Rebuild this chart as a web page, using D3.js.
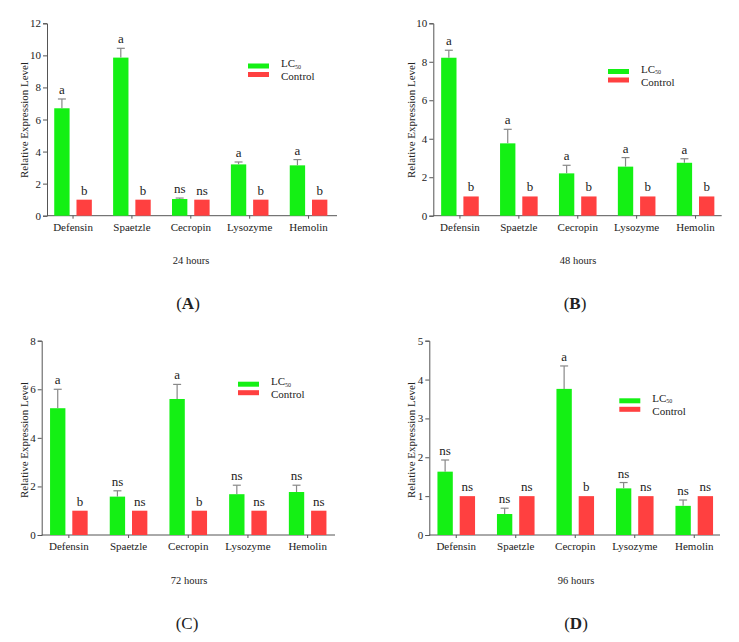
<!DOCTYPE html>
<html><head><meta charset="utf-8">
<script src="https://cdn.jsdelivr.net/npm/d3@7"></script>
<style>
body{margin:0;background:#fff;}
svg{display:block;}
text{font-family:"Liberation Serif","Times New Roman",serif;fill:#222;}
</style></head>
<body><svg id="c" width="739" height="642"></svg>
<script>
const categories = ["Defensin","Spaetzle","Cecropin","Lysozyme","Hemolin"];
const series = ["LC50","Control"];

const lc50_24h = [6.70, 9.86, 1.04, 3.20, 3.14];
const lc50Err_24h = [7.28, 10.44, 1.10, 3.35, 3.50];
const ctrl_24h = [1,1,1,1,1];
const lcLab_24h = ["a","a","ns","a","a"];
const ctLab_24h = ["b","b","ns","b","b"];

const lc50_48h = [8.21, 3.76, 2.20, 2.55, 2.75];
const lc50Err_48h = [8.60, 4.49, 2.62, 3.02, 2.96];
const ctrl_48h = [1,1,1,1,1];
const lcLab_48h = ["a","a","a","a","a"];
const ctLab_48h = ["b","b","b","b","b"];

const lc50_72h = [5.22, 1.58, 5.60, 1.68, 1.77];
const lc50Err_72h = [6.00, 1.82, 6.20, 2.05, 2.05];
const ctrl_72h = [1,1,1,1,1];
const lcLab_72h = ["a","ns","a","ns","ns"];
const ctLab_72h = ["b","ns","b","ns","ns"];

const lc50_96h = [1.63, 0.54, 3.76, 1.20, 0.75];
const lc50Err_96h = [1.93, 0.69, 4.35, 1.35, 0.90];
const ctrl_96h = [1,1,1,1,1];
const lcLab_96h = ["ns","ns","a","ns","ns"];
const ctLab_96h = ["ns","ns","b","ns","ns"];

const yMax = [12, 10, 8, 5];
const yStep = [2, 2, 2, 1];
const timeLabels = ["24 hours","48 hours","72 hours","96 hours"];
const panelLetters = ["A","B","C","D"];

const colors = {LC50:"#14f014", Control:"#ff4040"};

const panels = [
  {lc:lc50_24h, err:lc50Err_24h, ct:ctrl_24h, lcl:lcLab_24h, ctl:ctLab_24h,
   ax:47, axEnd:337, top:23.3, bot:215.7, band:[43.6,338], leg:[248,63.5], title:[24,120], time:[191,264], letter:[188,309], bold:true},
  {lc:lc50_48h, err:lc50Err_48h, ct:ctrl_48h, lcl:lcLab_48h, ctl:ctLab_48h,
   ax:433.3, axEnd:721.7, top:23.3, bot:215.7, band:[430.5,725], leg:[608,69], title:[411,120], time:[578,264], letter:[575,309], bold:true},
  {lc:lc50_72h, err:lc50Err_72h, ct:ctrl_72h, lcl:lcLab_72h, ctl:ctLab_72h,
   ax:41.7, axEnd:335, top:340.7, bot:535, band:[39,337.5], leg:[238,381.7], title:[24,440], time:[189,584], letter:[187,629], bold:false},
  {lc:lc50_96h, err:lc50Err_96h, ct:ctrl_96h, lcl:lcLab_96h, ctl:ctLab_96h,
   ax:429.3, axEnd:720, top:340.7, bot:535, band:[426.5,724], leg:[619.3,398.3], title:[411,440], time:[576,584], letter:[576,629], bold:true}
];

const svg = d3.select("#c");
const axisColor = "#555";

panels.forEach((p, i) => {
  const g = svg.append("g");
  const y = d3.scaleLinear().domain([0, yMax[i]]).range([p.bot, p.top]);
  const x0 = d3.scaleBand().domain(categories).range(p.band).padding(0);
  const x1 = d3.scaleBand().domain(series).range([0, 37.6]).paddingInner(0.31);
  const cx = c => x0(c) + x0.bandwidth()/2 - 18.8;

  // y axis
  const ticks = d3.range(0, yMax[i] + 0.001, yStep[i]);
  const ya = g.append("g").attr("transform", `translate(${p.ax},0)`)
    .call(d3.axisLeft(y).tickValues(ticks).tickSize(4).tickPadding(2).tickFormat(d3.format("d")));
  ya.select(".domain").attr("stroke", axisColor);
  ya.selectAll(".tick line").attr("stroke", axisColor);
  ya.selectAll(".tick text").attr("font-size", 11).attr("font-family", "Liberation Serif").attr("fill", "#222");

  // x axis
  g.append("line").attr("x1", p.ax).attr("x2", p.axEnd).attr("y1", p.bot).attr("y2", p.bot)
    .attr("stroke", axisColor);
  categories.forEach(c => {
    const xc = x0(c) + x0.bandwidth()/2;
    g.append("line").attr("x1", xc).attr("x2", xc).attr("y1", p.bot).attr("y2", p.bot + 3).attr("stroke", axisColor);
    g.append("text").attr("x", xc).attr("y", p.bot + 15).attr("text-anchor", "middle")
      .attr("font-size", 11).text(c);
  });

  // bars
  const rows = categories.map((c, k) => ({c, lc:p.lc[k], err:p.err[k], ct:p.ct[k], lcl:p.lcl[k], ctl:p.ctl[k]}));
  rows.forEach(r => {
    const bw = x1.bandwidth();
    const gx = cx(r.c) + x1("LC50");
    const rx = cx(r.c) + x1("Control");
    g.append("rect").attr("x", gx).attr("y", y(r.lc)).attr("width", bw).attr("height", y(0) - y(r.lc))
      .attr("fill", colors.LC50);
    g.append("rect").attr("x", rx).attr("y", y(r.ct)).attr("width", bw).attr("height", y(0) - y(r.ct))
      .attr("fill", colors.Control);
    // error bar
    const ex = gx + bw/2;
    g.append("line").attr("x1", ex).attr("x2", ex).attr("y1", y(r.lc)).attr("y2", y(r.err))
      .attr("stroke", "#888").attr("stroke-width", 1.2);
    g.append("line").attr("x1", ex - 4).attr("x2", ex + 4).attr("y1", y(r.err)).attr("y2", y(r.err))
      .attr("stroke", "#888").attr("stroke-width", 1.2);
    // letters
    g.append("text").attr("x", ex).attr("y", y(r.err) - 5).attr("text-anchor", "middle")
      .attr("font-size", 13).text(r.lcl);
    g.append("text").attr("x", rx + bw/2).attr("y", y(r.ct) - 5).attr("text-anchor", "middle")
      .attr("font-size", 13).text(r.ctl);
  });

  // y title
  g.append("text").attr("transform", `translate(${p.title[0]},${p.title[1]}) rotate(-90)`)
    .attr("text-anchor", "middle").attr("dy", "0.35em").attr("font-size", 11).text("Relative Expression Level");

  // legend
  const [lx, ly] = p.leg;
  g.append("rect").attr("x", lx).attr("y", ly).attr("width", 21).attr("height", 5).attr("fill", colors.LC50);
  g.append("rect").attr("x", lx).attr("y", ly + 8.5).attr("width", 21).attr("height", 5).attr("fill", colors.Control);
  const t1 = g.append("text").attr("x", lx + 33).attr("y", ly + 3.5).attr("font-size", 11);
  t1.append("tspan").text("LC");
  t1.append("tspan").attr("font-size", 6).attr("dy", 1.5).text("50");
  g.append("text").attr("x", lx + 33).attr("y", ly + 16.5).attr("font-size", 11).text("Control");

  // time label
  g.append("text").attr("x", p.time[0]).attr("y", p.time[1]).attr("text-anchor", "middle")
    .attr("font-size", 10.5).text(timeLabels[i]);

  // panel letter
  const lt = g.append("text").attr("x", p.letter[0]).attr("y", p.letter[1]).attr("text-anchor", "middle")
    .attr("font-size", 17).attr("fill", "#000");
  lt.append("tspan").text("(");
  lt.append("tspan").attr("font-weight", p.bold ? "bold" : "normal").text(panelLetters[i]);
  lt.append("tspan").text(")");
});
</script>
</body></html>
